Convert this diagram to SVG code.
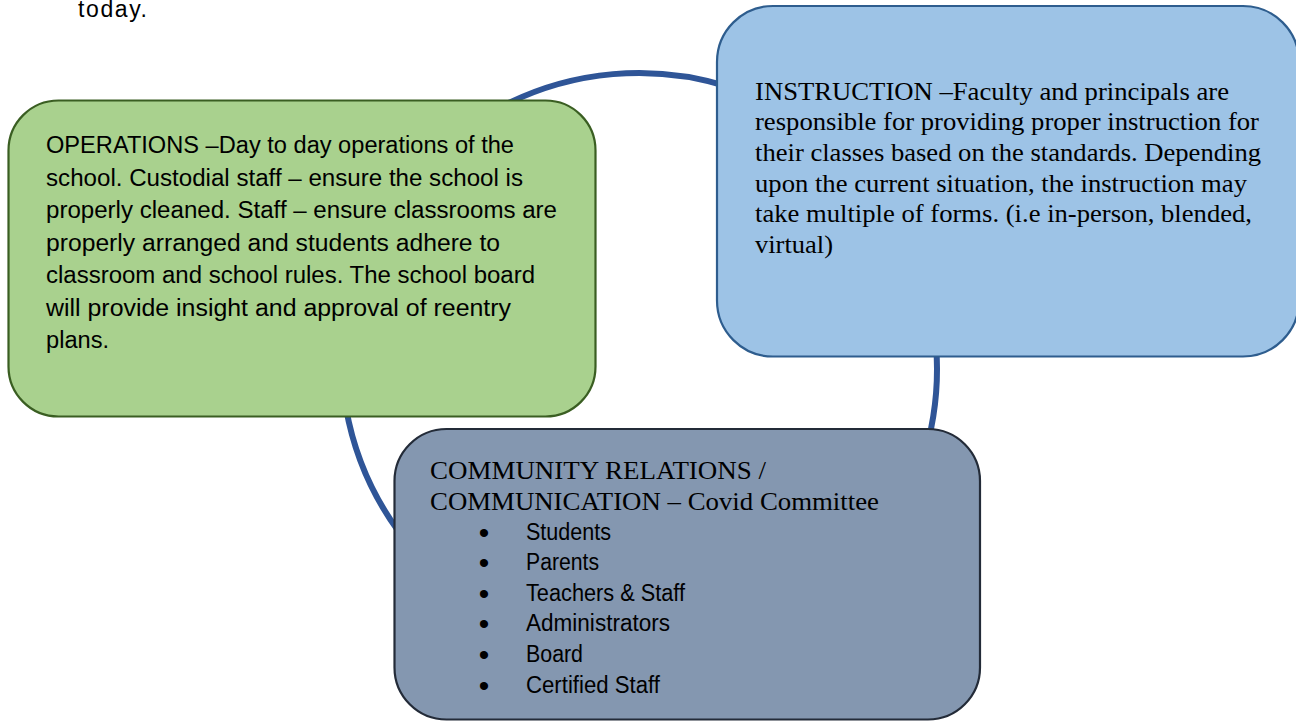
<svg xmlns="http://www.w3.org/2000/svg" width="1296" height="721" viewBox="0 0 1296 721">
<style>
.sans{font-family:"Liberation Sans","Open Sans",Arial,sans-serif;font-size:23px;fill:#000}
.serif{font-family:"Liberation Serif","Times New Roman",serif;font-size:26px;fill:#000}
.bul{font-family:"Liberation Sans",Arial,sans-serif;font-size:30px;fill:#000}
.conn{fill:none;stroke:#2f5597;stroke-width:6}
.box{stroke-width:2.2}
</style>
<rect width="1296" height="721" fill="#ffffff"/>
<text class="sans" x="78" y="17" textLength="69">today.</text>
<g id="connectors">
<path class="conn" d="M 500 107.4 A 298 298 0 0 1 730 87.2"/>
<path class="conn" d="M 936 345 A 298 298 0 0 1 928.5 440"/>
<path class="conn" d="M 399 532 A 298 298 0 0 1 346 408"/>
</g>
<g id="operations">
<rect class="box" x="8.5" y="100.5" width="587" height="316" rx="50" ry="50" fill="#a9d18e" stroke="#3a5e22"/>
<text class="sans" x="46" y="153" textLength="468" lengthAdjust="spacingAndGlyphs">OPERATIONS –Day to day operations of the</text>
<text class="sans" x="46" y="185.5" textLength="477" lengthAdjust="spacingAndGlyphs">school. Custodial staff – ensure the school is</text>
<text class="sans" x="46" y="218" textLength="511" lengthAdjust="spacingAndGlyphs">properly cleaned. Staff – ensure classrooms are</text>
<text class="sans" x="46" y="250.5" textLength="454" lengthAdjust="spacingAndGlyphs">properly arranged and students adhere to</text>
<text class="sans" x="46" y="283" textLength="489" lengthAdjust="spacingAndGlyphs">classroom and school rules. The school board</text>
<text class="sans" x="46" y="315.5" textLength="465" lengthAdjust="spacingAndGlyphs">will provide insight and approval of reentry</text>
<text class="sans" x="46" y="348" textLength="63" lengthAdjust="spacingAndGlyphs">plans.</text>
</g>
<g id="instruction">
<rect class="box" x="717" y="6" width="582" height="350.5" rx="56" ry="56" fill="#9dc3e6" stroke="#2e5d8e"/>
<text class="serif" x="755" y="99.5" textLength="474" lengthAdjust="spacingAndGlyphs">INSTRUCTION –Faculty and principals are</text>
<text class="serif" x="755" y="130" textLength="504" lengthAdjust="spacingAndGlyphs">responsible for providing proper instruction for</text>
<text class="serif" x="755" y="160.7" textLength="506" lengthAdjust="spacingAndGlyphs">their classes based on the standards. Depending</text>
<text class="serif" x="755" y="191.5" textLength="492" lengthAdjust="spacingAndGlyphs">upon the current situation, the instruction may</text>
<text class="serif" x="755" y="222" textLength="497" lengthAdjust="spacingAndGlyphs">take multiple of forms. (i.e in-person, blended,</text>
<text class="serif" x="755" y="252.5" textLength="78" lengthAdjust="spacingAndGlyphs">virtual)</text>
</g>
<g id="community">
<rect class="box" x="394.5" y="429" width="585.5" height="290.5" rx="52" ry="52" fill="#8497b0" stroke="#232b38"/>
<text class="serif" x="430" y="478.5" textLength="336" lengthAdjust="spacingAndGlyphs">COMMUNITY RELATIONS /</text>
<text class="serif" x="430" y="510" textLength="449" lengthAdjust="spacingAndGlyphs">COMMUNICATION – Covid Committee</text>
<g class="bul" text-anchor="middle">
<text x="484" y="543.3">•</text>
<text x="484" y="573.3">•</text>
<text x="484" y="604">•</text>
<text x="484" y="634">•</text>
<text x="484" y="664.7">•</text>
<text x="484" y="696">•</text>
</g>
<text class="sans" x="526" y="540" textLength="85" lengthAdjust="spacingAndGlyphs">Students</text>
<text class="sans" x="526" y="570" textLength="73" lengthAdjust="spacingAndGlyphs">Parents</text>
<text class="sans" x="526" y="600.7" textLength="159" lengthAdjust="spacingAndGlyphs">Teachers &amp; Staff</text>
<text class="sans" x="526" y="631" textLength="144" lengthAdjust="spacingAndGlyphs">Administrators</text>
<text class="sans" x="526" y="661.5" textLength="57" lengthAdjust="spacingAndGlyphs">Board</text>
<text class="sans" x="526" y="692.5" textLength="134" lengthAdjust="spacingAndGlyphs">Certified Staff</text>
</g>
</svg>
